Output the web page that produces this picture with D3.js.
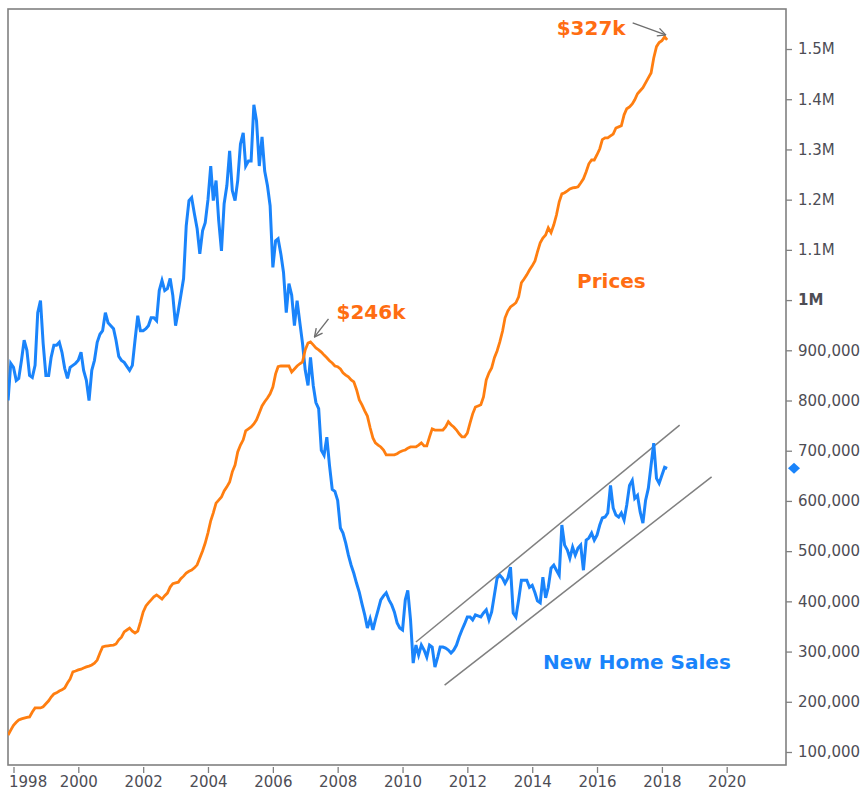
<!DOCTYPE html>
<html>
<head>
<meta charset="utf-8">
<script src="https://cdn.jsdelivr.net/npm/d3@7"></script>
<style>
  body { margin: 0; background: #fff; }
  svg { display: block; }
</style>
</head>
<body>
<svg class="chart"></svg>
<script>
// monthly series, first month = Nov 1997
const firstMonth = new Date(1997, 10, 1);

// new home sales, thousands (SAAR)
const homeSales = [
  800, 874,
  866, 840, 844, 880, 920, 900, 850, 846, 870, 975, 999, 914,
  850, 850, 886, 910, 910, 916, 896, 864, 844, 866, 870, 874,
  880, 896, 860, 840, 800, 860, 880, 916, 932, 939, 975, 955,
  949, 943, 920, 888, 880, 876, 868, 860, 870, 920, 969, 939,
  939, 943, 949, 965, 965, 959, 1019, 1039, 1019, 1023, 1043, 1009,
  949, 979, 1009, 1043, 1148, 1198, 1204, 1172, 1142, 1092, 1138, 1154,
  1200, 1267, 1198, 1238, 1158, 1098, 1192, 1228, 1297, 1218, 1198, 1238,
  1311, 1333, 1267, 1277, 1277, 1389, 1357, 1267, 1325, 1257, 1228, 1188,
  1065, 1118, 1122, 1092, 1055, 975, 1033, 1010, 949, 999, 955, 914,
  860, 830, 886, 830, 796, 784, 701, 691, 727, 671, 623, 619,
  601, 546, 536, 516, 492, 472, 456, 436, 418, 395, 373, 347,
  365, 343, 363, 383, 403, 411, 417, 403, 393, 379, 357, 347,
  343, 403, 422, 363, 277, 313, 293, 313, 303, 289, 313, 309,
  269, 289, 309, 309, 307, 303, 297, 303, 313, 329, 343, 355,
  369, 369, 363, 373, 371, 369, 377, 383, 363, 379, 413, 446,
  452, 446, 436, 446, 468, 377, 369, 403, 442, 442, 442, 428,
  432, 417, 401, 397, 448, 407, 428, 466, 472, 462, 452, 552,
  512, 502, 486, 508, 492, 506, 512, 462, 522, 526, 536, 522,
  532, 552, 566, 568, 576, 631, 586, 572, 568, 576, 562, 592,
  631, 641, 605, 611, 578, 556, 601, 625, 671, 715, 645, 635,
  651, 667, 665
];

// median new home price, $ thousands
const homePrices = [
  141.6, 142.9,
  144.2, 145.0, 145.6, 145.9, 146.1, 146.3, 146.4, 147.7, 148.8, 148.8, 148.8, 149.1,
  149.9, 150.7, 151.7, 152.5, 152.8, 153.3, 153.6, 154.1, 155.4, 156.5, 158.4, 158.6,
  158.9, 159.1, 159.4, 159.7, 159.9, 160.2, 160.7, 161.5, 163.4, 165.0, 165.2, 165.3,
  165.4, 165.5, 165.8, 166.9, 167.6, 169.0, 169.5, 170.0, 169.2, 168.7, 169.2, 171.6,
  174.3, 175.9, 176.7, 177.5, 178.3, 178.8, 178.3, 177.7, 178.6, 179.3, 180.9, 181.8,
  182.0, 182.2, 183.1, 183.8, 184.6, 185.1, 185.4, 186.0, 186.8, 188.6, 190.5, 192.6,
  195.3, 198.5, 200.6, 203.2, 204.0, 204.8, 206.4, 207.5, 208.8, 211.5, 213.3, 216.8,
  218.6, 220.0, 222.4, 222.9, 223.4, 224.2, 225.3, 227.1, 229.0, 230.1, 231.1, 232.2,
  234.0, 237.5, 239.4, 239.6, 239.6, 239.6, 239.6, 238.0, 238.8, 239.6, 240.2, 240.7,
  243.9, 245.7, 246.0, 245.2, 244.4, 243.9, 243.3, 242.5, 241.8, 241.0, 240.4, 239.6,
  239.4, 238.8, 237.8, 237.2, 236.7, 235.9, 235.4, 233.3, 230.6, 229.3, 227.7, 226.3,
  223.2, 220.5, 219.2, 218.6, 218.1, 217.3, 216.0, 216.0, 216.0, 216.0, 216.3, 216.8,
  217.1, 217.3, 217.8, 218.1, 218.1, 218.1, 218.6, 219.2, 218.4, 218.4, 220.8, 222.9,
  222.6, 222.6, 222.6, 222.6, 223.4, 224.8, 224.0, 223.4, 222.6, 221.6, 220.8, 220.8,
  221.8, 224.5, 226.9, 228.7, 229.0, 229.3, 231.4, 235.9, 237.8, 239.1, 241.8, 243.6,
  246.0, 248.9, 252.4, 254.2, 255.3, 255.8, 256.4, 258.0, 261.7, 262.7, 263.8, 265.1,
  266.2, 267.5, 269.9, 272.3, 273.6, 274.4, 276.3, 275.0, 277.1, 279.7, 283.2, 285.3,
  285.6, 286.1, 286.6, 286.9, 287.0, 287.2, 288.2, 289.3, 291.2, 293.3, 294.3, 294.3,
  295.7, 297.3, 299.7, 300.2, 300.2, 300.7, 301.2, 302.8, 303.1, 303.4, 306.3, 307.9,
  308.4, 309.2, 310.3, 311.9, 312.7, 313.5, 314.8, 316.1, 317.4, 321.4, 324.4, 325.5,
  326.0, 327.0, 326.2
];

const yearTicks = [1998, 2000, 2002, 2004, 2006, 2008, 2010, 2012, 2014, 2016, 2018, 2020];
const salesTicks = [100, 200, 300, 400, 500, 600, 700, 800, 900, 1000, 1100, 1200, 1300, 1400, 1500];

// trend channel drawn by hand on the sales line
const channelUpper = [[new Date(2010, 5, 1), 319], [new Date(2018, 6, 20), 751]];
const channelLower = [[new Date(2011, 3, 20), 233], [new Date(2019, 6, 15), 648]];

const blue = '#1a84fb';
const orange = '#ff7e10';
const orangeText = '#ff6d12';
const grey = '#808080';
const font = '"DejaVu Sans", Verdana, sans-serif';

const size = { width: 868, height: 795 };
const frame = { left: 8, top: 9, right: 786, bottom: 765 };

const x = d3.scaleTime()
  .domain([new Date(1998, 0, 1), new Date(2020, 0, 1)])
  .range([13.5, 726.7]);
const ySales = d3.scaleLinear().domain([74.1, 1579.7]).range([frame.bottom, frame.top]);
const yPrice = d3.scaleLinear().domain([133.65, 334.4]).range([frame.bottom, frame.top]);

const month = i => d3.timeMonth.offset(firstMonth, i);
const sales = homeSales.map((v, i) => ({ date: month(i), value: v }));
const prices = homePrices.map((v, i) => ({ date: month(i), value: v }));

const svg = d3.select('.chart')
  .attr('width', size.width)
  .attr('height', size.height)
  .style('font-family', font);

svg.append('defs').append('clipPath').attr('id', 'plot')
  .append('rect')
  .attr('x', frame.left).attr('y', frame.top)
  .attr('width', frame.right - frame.left).attr('height', frame.bottom - frame.top);

const arrow = svg.select('defs').append('marker')
  .attr('id', 'arrow')
  .attr('viewBox', '0 0 10 10')
  .attr('refX', 9).attr('refY', 5)
  .attr('markerWidth', 10).attr('markerHeight', 10)
  .attr('markerUnits', 'userSpaceOnUse')
  .attr('orient', 'auto');
arrow.append('path')
  .attr('d', 'M1,1 L9,5 L1,9')
  .attr('fill', 'none').attr('stroke', '#6e6e6e').attr('stroke-width', 1.4);

// axes
const xAxis = d3.axisBottom(x)
  .tickValues(yearTicks.map(y => new Date(y, 0, 1)))
  .tickFormat(d3.timeFormat('%Y'))
  .tickSize(6).tickPadding(3);
const gx = svg.append('g')
  .attr('transform', `translate(0,${frame.bottom + 2})`)
  .call(xAxis);
gx.select('.domain').remove();
gx.selectAll('line').attr('stroke', grey).attr('stroke-width', 1.3);
gx.selectAll('text')
  .attr('font-family', font).attr('font-size', 15).attr('fill', '#4d4d55');
gx.select('.tick text').attr('text-anchor', 'start').attr('dx', -5);

const salesFormat = v => v >= 1000 ? `${v / 1000}M` : d3.format(',')(v * 1000);
const yAxis = d3.axisRight(ySales)
  .tickValues(salesTicks)
  .tickFormat(salesFormat)
  .tickSize(6).tickPadding(6);
const gy = svg.append('g')
  .attr('transform', `translate(${frame.right},0)`)
  .call(yAxis);
gy.select('.domain').remove();
gy.selectAll('line').attr('stroke', grey).attr('stroke-width', 1.3);
gy.selectAll('text')
  .attr('font-family', font).attr('font-size', 15).attr('fill', '#4d4d55')
  .attr('font-weight', d => d === 1000 ? 'bold' : null);

// frame
svg.append('rect')
  .attr('x', frame.left).attr('y', frame.top)
  .attr('width', frame.right - frame.left).attr('height', frame.bottom - frame.top)
  .attr('fill', 'none').attr('stroke', grey).attr('stroke-width', 1.6);

const plot = svg.append('g').attr('clip-path', 'url(#plot)');

const salesLine = d3.line().x(d => x(d.date)).y(d => ySales(d.value));
const priceLine = d3.line().x(d => x(d.date)).y(d => yPrice(d.value));
const channelLine = d3.line().x(d => x(d[0])).y(d => ySales(d[1]));

plot.selectAll('.channel')
  .data([channelUpper, channelLower])
  .enter().append('path')
  .attr('class', 'channel')
  .attr('d', channelLine)
  .attr('fill', 'none').attr('stroke', grey).attr('stroke-width', 1.5);

plot.append('path')
  .datum(sales)
  .attr('d', salesLine)
  .attr('fill', 'none').attr('stroke', blue).attr('stroke-width', 3)
  .attr('stroke-linejoin', 'miter');

plot.append('path')
  .datum(prices)
  .attr('d', priceLine)
  .attr('fill', 'none').attr('stroke', orange).attr('stroke-width', 2.8);

// last value marker on the axis
const last = sales[sales.length - 1];
svg.append('path')
  .attr('d', 'M0,-5.5 L6,0 L0,5.5 L-6,0 Z')
  .attr('transform', `translate(${frame.right + 8},${ySales(last.value)})`)
  .attr('fill', blue);

// annotations
const peak = prices[d3.maxIndex(prices.slice(0, 150), d => d.value)];
const end = prices[d3.maxIndex(prices, d => d.value)];

const note = (d, label, tx, ty, anchor, a) => {
  const px = x(d.date), py = yPrice(d.value);
  svg.append('text')
    .attr('x', px + tx).attr('y', py + ty)
    .attr('text-anchor', anchor)
    .attr('font-size', 20).attr('font-weight', 'bold')
    .attr('fill', orangeText)
    .text(label);
  svg.append('line')
    .attr('x1', px + a[0]).attr('y1', py + a[1])
    .attr('x2', px + a[2]).attr('y2', py + a[3])
    .attr('stroke', '#6e6e6e').attr('stroke-width', 1.4)
    .attr('marker-end', 'url(#arrow)');
};
note(peak, `$${Math.round(peak.value)}k`, 26, -23, 'start', [18, -23, 4, -5]);
note(end, `$${Math.round(end.value)}k`, -39, -2, 'end', [-32, -14, 1, -2]);

svg.append('text')
  .attr('x', 577).attr('y', 288)
  .attr('font-size', 20).attr('font-weight', 'bold')
  .attr('fill', orangeText)
  .text('Prices');

svg.append('text')
  .attr('x', 543).attr('y', 669)
  .attr('font-size', 20).attr('font-weight', 'bold')
  .attr('fill', blue)
  .text('New Home Sales');
</script>
</body>
</html>
